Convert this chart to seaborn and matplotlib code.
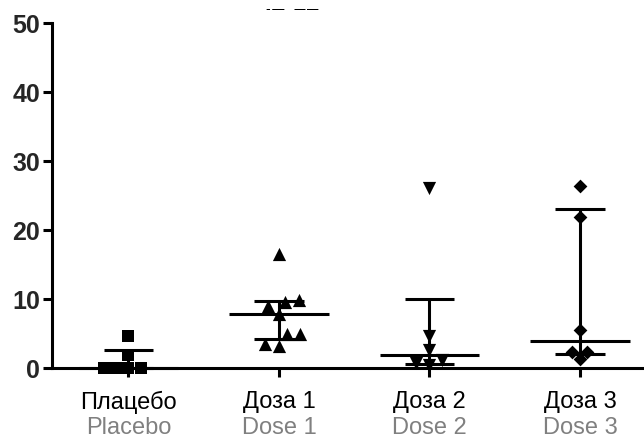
import numpy as np
import pandas as pd
import seaborn as sns
import matplotlib
matplotlib.use("Agg")
import matplotlib.pyplot as plt
from matplotlib.transforms import Bbox

# Groups and their two-line axis labels
groups_ru = ["Плацебо", "Доза 1", "Доза 2", "Доза 3"]
groups_en = ["Placebo", "Dose 1", "Dose 2", "Dose 3"]

# Individual measurements per group
placebo = [4.7, 1.9, 0.0, 0.0, 0.0, 0.0]
dose1 = [16.6, 9.9, 9.0, 9.6, 7.9, 4.9, 5.0, 3.3, 3.5]
dose2 = [26.1, 4.7, 2.6, 1.2, 0.7, 0.5]
dose3 = [26.4, 21.9, 5.6, 2.4, 2.35, 1.4]

y_ticks = [0, 10, 20, 30, 40, 50]
title_text = "IL-12"

series = [placebo, dose1, dose2, dose3]
markers = ["s", "^", "v", "D"]
marker_sizes = [8.5, 9.5, 9.5, 7]

df = pd.DataFrame({
    "group": np.repeat(groups_ru, [len(s) for s in series]),
    "value": np.concatenate(series),
})

sns.set_style("ticks")
plt.rcParams["font.family"] = ["Liberation Sans", "DejaVu Sans"]

fig = plt.figure(figsize=(6.44, 4.38), dpi=100)
ax = fig.add_axes([52 / 644, (438 - 368.3) / 438, 592 / 644, 345 / 438])

for g, m, ms in zip(groups_ru, markers, marker_sizes):
    sns.swarmplot(data=df[df["group"] == g], x="group", y="value",
                  order=groups_ru, marker=m, size=ms, color="black",
                  linewidth=0, ax=ax, zorder=4)
for c in ax.collections:
    c.set_clip_on(False)

# Median with interquartile range
lw = 2.2
for i, vals in enumerate(series):
    q1, med, q3 = np.percentile(vals, [25, 50, 75], method="weibull")
    ax.hlines(med, i - 0.33, i + 0.33, color="black", lw=lw, zorder=3, clip_on=False)
    ax.hlines([q1, q3], i - 0.165, i + 0.165, color="black", lw=lw, zorder=3, clip_on=False)
    ax.vlines(i, q1, q3, color="black", lw=lw, zorder=3, clip_on=False)

ax.set_ylim(0, 50)
ax.set_xlim(-0.508, 3.426)
ax.set_yticks(y_ticks)
ax.set_yticklabels([str(t) for t in y_ticks], fontsize=18, fontweight="bold")
ax.set_xticks(range(len(groups_ru)))
ax.set_xticklabels(groups_ru, fontsize=17, color="black")
ax.set_xlabel("")
ax.set_ylabel("")

for i, lab in enumerate(groups_en):
    ax.annotate(lab, xy=(i, 0), xycoords=("data", "axes fraction"),
                xytext=(0, -47.5), textcoords="offset points",
                ha="center", va="baseline", fontsize=17, color="#808080",
                annotation_clip=False)

for side in ["top", "right"]:
    ax.spines[side].set_visible(False)
for side in ["left", "bottom"]:
    ax.spines[side].set_linewidth(lw)
    ax.spines[side].set_color("black")
ax.tick_params(axis="both", direction="out", length=6.5, width=lw, color="black")
ax.tick_params(axis="y", pad=2)
ax.tick_params(axis="x", pad=10)

# Chart title, trimmed to the thin strip left at the top of the canvas
title = fig.text(292 / 644, 1 - 10.5 / 438, title_text, ha="center", va="baseline",
                 fontsize=17, fontweight="bold", color="black")
title.set_clip_box(Bbox.from_extents(0, 438 - 11.2, 644, 438 - 9.4))
title.set_clip_on(True)

fig.savefig("out.png", dpi=100)
